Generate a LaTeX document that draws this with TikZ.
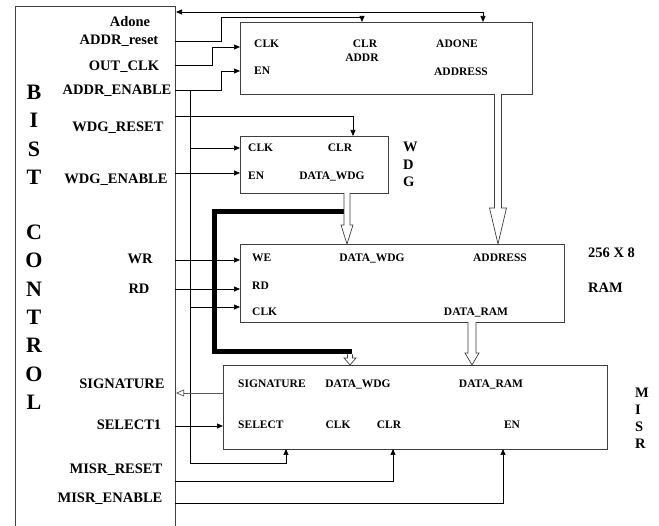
\documentclass[tikz,border=0pt]{standalone}
\usepackage{fontspec}
\setmainfont{Liberation Serif}
\usetikzlibrary{arrows.meta,calc}
\tikzset{
 blk/.style={draw=black!75, line width=0.8pt, inner sep=0pt, outer sep=0pt},
 wire/.style={draw=black, line width=0.7pt},
 arr/.style={-{Triangle[length=6pt,width=5pt]}},
 arrboth/.style={{Triangle[length=6pt,width=5pt]}-{Triangle[length=6pt,width=5pt]}},
 openarr/.style={-{Triangle[open,length=8pt,width=7pt]}},
 lbl/.style={font=\fontsize{14.5}{16}\selectfont\bfseries, anchor=base, inner sep=0pt},
 plbl/.style={font=\fontsize{11.5}{13}\selectfont\bfseries, anchor=base, inner sep=0pt},
 plblw/.style={plbl, anchor=base west},
 bigl/.style={font=\fontsize{22}{24}\selectfont\bfseries, anchor=base, inner sep=0pt},
 sidel/.style={font=\fontsize{14.5}{16}\selectfont\bfseries, anchor=base west, inner sep=0pt},
 hollow/.style={draw=black!75, line width=0.7pt, fill=white},
 heavy/.style={draw=black, line width=5pt},
}
\newcommand{\hollowarrow}[5]{%
 \draw[hollow] let \p1=(#1), \p2=(#2) in
 (\x1-#3pt,\y1) -- (\x1-#3pt,\y2+#5pt) -- (\x1-#4pt,\y2+#5pt) -- (\x2,\y2)
 -- (\x1+#4pt,\y2+#5pt) -- (\x1+#3pt,\y2+#5pt) -- (\x1+#3pt,\y1);}
\begin{document}
\begin{tikzpicture}[x=1pt,y=-1pt]
\useasboundingbox (0,0) rectangle (659,526);
\fill[white] (0,0) rectangle (659,526);

% BIST control box
\coordinate (bistBL) at (15,526);
\coordinate (bistTL) at (15,6);
\coordinate (bistTR) at (175,6);
\coordinate (bistBR) at (175,526);
\draw[blk] (bistBL) -- (bistTL) -- (bistTR) -- (bistBR);

% blocks
\node[blk, minimum width=292pt, minimum height=72pt] (addr) at (386,58) {};
\node[blk, minimum width=148pt, minimum height=57pt] (wdg) at (314,164.5) {};
\node[blk, minimum width=324pt, minimum height=78pt] (ram) at (402,283) {};
\node[blk, minimum width=384pt, minimum height=84pt] (misr) at (415,407) {};

% BIST ports
\coordinate (pAdone) at (176,12);
\coordinate (pAddrReset) at (175,41);
\coordinate (pOutClk) at (175,65);
\coordinate (pAddrEn) at (175,90);
\coordinate (pWdgReset) at (175,116);
\coordinate (pWdgEn) at (175,173);
\coordinate (pWR) at (175,260);
\coordinate (pRD) at (175,289);
\coordinate (pSig) at (176,393);
\coordinate (pSel) at (175,426);
\coordinate (pMisrRst) at (175,481);
\coordinate (pMisrEn) at (175,503);

% block ports
\coordinate (aClk) at (240,47);
\coordinate (aEn) at (240,71);
\coordinate (aClr) at (362,22);
\coordinate (aAdone) at (483,22);
\coordinate (aAddr) at (498,94);
\coordinate (wClk) at (240,148);
\coordinate (wEn) at (240,173);
\coordinate (wClr) at (353,136);
\coordinate (wData) at (347,193);
\coordinate (rWE) at (240,260);
\coordinate (rRD) at (240,289);
\coordinate (rClk) at (240,307);
\coordinate (rDataIn) at (347,244);
\coordinate (rAddr) at (498,244);
\coordinate (rDataOut) at (472,322);
\coordinate (mSig) at (223,393);
\coordinate (mSel) at (223,426);
\coordinate (mClk) at (286,449);
\coordinate (mClr) at (393,449);
\coordinate (mEn) at (503,449);
\coordinate (mWdg) at (350,365);
\coordinate (mRam) at (472,365);
\coordinate (busTop) at (190,90);
\coordinate (busBot) at (190,463);
\coordinate (thickStart) at (344,212);
\coordinate (thickC1) at (214,212);
\coordinate (thickC2) at (214,352);
\coordinate (thickEnd) at (352,352);
\coordinate (thickDrop) at (350,354.5);

% wires
\draw[wire, arrboth] (pAdone) -| (aAdone);
\draw[wire, arr] (pAddrReset) -| (221,17) -| (aClr);
\draw[wire, arr] (pOutClk) -| (212,47) -- (aClk);
\draw[wire, arr] (pAddrEn) -| (221,71) -- (aEn);
\draw[wire, arr] (busTop) -- (busBot) -| (mClk);
\draw[wire, arr] (busTop |- wClk) -- (wClk);
\draw[wire, arr] (busTop |- rClk) -- (rClk);
\draw[wire, arr] (pWdgReset) -| (wClr);
\draw[wire, arr] (pWdgEn) -- (wEn);
\draw[wire, arr] (pWR) -- (rWE);
\draw[wire, arr] (pRD) -- (rRD);
\draw[wire, draw=black!65, openarr] (mSig) -- (pSig);
\draw[wire, arr] (pSel) -- (mSel);
\draw[wire, arr] (pMisrRst) -| (mClr);
\draw[wire, arr] (pMisrEn) -| (mEn);
\draw[heavy] (thickStart) -- (thickC1) -- (thickC2) -- (thickEnd);
\hollowarrow{aAddr}{rAddr}{3.5}{8.5}{36}
\hollowarrow{wData}{rDataIn}{3}{6}{19}
\hollowarrow{rDataOut}{mRam}{4}{7}{12}
\hollowarrow{thickDrop}{mWdg}{2.5}{6}{7}

% BIST labels
\node[lbl] (tAdone) at (130,27) {Adone};
\node[lbl] (tAddrReset) at (119,45) {ADDR\_reset};
\node[lbl] (tOutClk) at (124,71) {OUT\_CLK};
\node[lbl] (tAddrEn) at (117,95) {ADDR\_ENABLE};
\node[lbl] (tWdgReset) at (118,132) {WDG\_RESET};
\node[lbl] (tWdgEn) at (116,184) {WDG\_ENABLE};
\node[lbl] (tWR) at (140,264) {WR};
\node[lbl] (tRD) at (139,294) {RD};
\node[lbl] (tSig) at (122,389) {SIGNATURE};
\node[lbl] (tSel) at (129,430) {SELECT1};
\node[lbl] (tMisrRst) at (116,474) {MISR\_RESET};
\node[lbl] (tMisrEn) at (110,503) {MISR\_ENABLE};

\node[bigl] (bB) at (34,100) {B};
\node[bigl] (bI) at (34,128) {I};
\node[bigl] (bS) at (34,157) {S};
\node[bigl] (bT) at (34,185) {T};
\node[bigl] (bC) at (34,240) {C};
\node[bigl] (bO) at (34,268) {O};
\node[bigl] (bN) at (34,297) {N};
\node[bigl] (bT2) at (34,325) {T};
\node[bigl] (bR) at (34,353) {R};
\node[bigl] (bO2) at (34,382) {O};
\node[bigl] (bL) at (34,410) {L};

% ADDR block labels
\node[plblw] (aTClk) at (254,48) {CLK};
\node[plblw] (aTEn) at (254,75) {EN};
\node[plbl] (aTClr) at (365,48) {CLR};
\node[plbl] (aTAddr) at (362,62) {ADDR};
\node[plbl] (aTAdone) at (457,48) {ADONE};
\node[plbl] (aTAddress) at (461,76) {ADDRESS};

% WDG labels
\node[plblw] (wTClk) at (248,152) {CLK};
\node[plblw] (wTEn) at (248,180) {EN};
\node[plbl] (wTClr) at (340,152) {CLR};
\node[plbl] (wTData) at (332,180) {DATA\_WDG};
\node[sidel] (wW) at (403,152) {W};
\node[sidel] (wD) at (403,170) {D};
\node[sidel] (wG) at (403,187) {G};

% RAM labels
\node[plblw] (rTWE) at (252,262) {WE};
\node[plblw] (rTRD) at (252,290) {RD};
\node[plblw] (rTClk) at (252,316) {CLK};
\node[plbl] (rTWdg) at (372,262) {DATA\_WDG};
\node[plbl] (rTAddr) at (500,262) {ADDRESS};
\node[plbl] (rTRam) at (476,316) {DATA\_RAM};
\node[sidel] (rSize) at (588,258) {256 X 8};
\node[sidel] (rName) at (588,293) {RAM};

% MISR labels
\node[plblw] (mTSig) at (238,388) {SIGNATURE};
\node[plbl] (mTWdg) at (358,388) {DATA\_WDG};
\node[plbl] (mTRam) at (491,388) {DATA\_RAM};
\node[plblw] (mTSel) at (238,429) {SELECT};
\node[plbl] (mTClk) at (338,429) {CLK};
\node[plbl] (mTClr) at (389,429) {CLR};
\node[plbl] (mTEn) at (512,429) {EN};
\node[sidel] (mM) at (635,398) {M};
\node[sidel] (mI) at (635,415) {I};
\node[sidel] (mS) at (635,432) {S};
\node[sidel] (mR) at (635,449) {R};
\end{tikzpicture}
\end{document}
